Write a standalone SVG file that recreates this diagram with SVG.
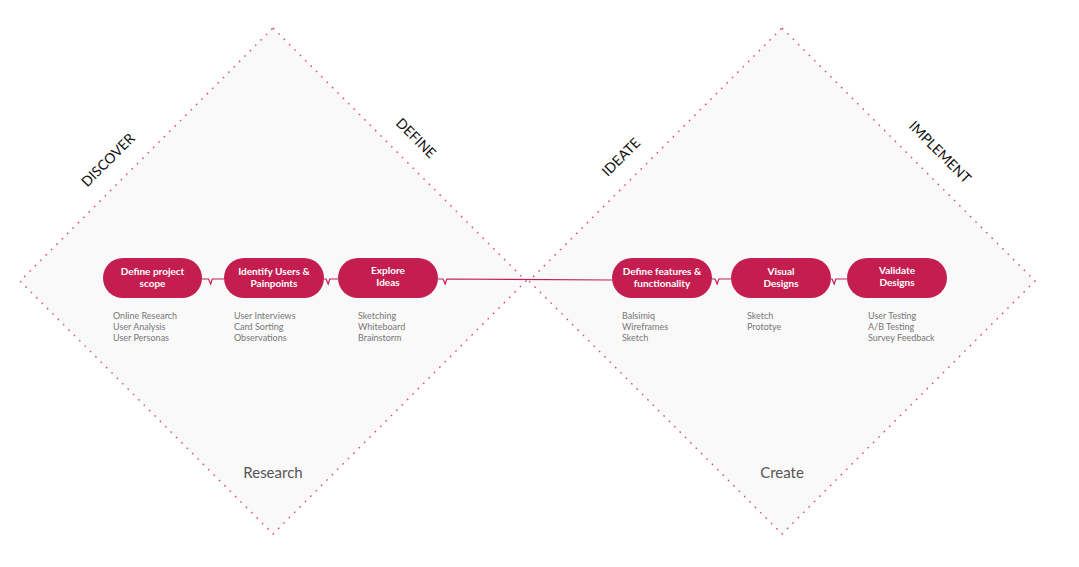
<svg xmlns="http://www.w3.org/2000/svg" width="1079" height="567" viewBox="0 0 1079 567">
<style>
.dia{fill:#f9f9f9;stroke:#e0457b;stroke-width:1.4;stroke-dasharray:1.6 6;}
.pill{fill:#c41e50;}
.pt{font-family:Lato,"Noto Sans",sans-serif;font-size:10px;font-weight:bold;fill:#ffffff;text-anchor:middle;}
.st{font-family:Lato,"Noto Sans",sans-serif;font-size:9px;fill:#777777;}
.phase{font-family:Lato,"Noto Sans",sans-serif;font-size:14px;fill:#111;text-anchor:middle;}
.big{font-family:Lato,"Noto Sans",sans-serif;font-size:15px;fill:#555;text-anchor:middle;}
.con{fill:none;stroke:#c41e50;stroke-width:1.2;}
</style>
<rect width="1079" height="567" fill="#ffffff"/>
<g id="diamond-research">
<polygon class="dia" points="273,28 526,281 273,534 20,281"/>
<text class="big" x="273" y="478">Research</text>
</g>
<g id="diamond-create">
<polygon class="dia" points="782,28 1035,281 782,534 529,281"/>
<text class="big" x="782" y="478">Create</text>
</g>
<g id="labels">
<text class="phase" transform="translate(108,160) rotate(-45)" y="5">DISCOVER</text>
<text class="phase" transform="translate(416,138) rotate(45)" y="5">DEFINE</text>
<text class="phase" transform="translate(621,157) rotate(-45)" y="5">IDEATE</text>
<text class="phase" transform="translate(940,152) rotate(45)" y="5">IMPLEMENT</text>
</g>
<g id="connectors">
<path class="con" d="M202,279 H208.5 L210.7,284 L212.3,279 H224"/>
<path class="con" d="M324,279 H326 L328.2,284 L329.8,279 H338"/>
<path class="con" d="M438,279 H443 L445.2,284 L446.8,279 L612,280"/>
<path class="con" d="M712,279 H715 L717.2,284 L718.8,279 H731"/>
<path class="con" d="M831,279 H832 L834.2,284 L835.8,279 H847"/>
</g>
<g id="node-scope">
<rect class="pill" x="103" y="258" width="99" height="40" rx="20"/>
<text class="pt" x="152.5" y="275">Define project</text>
<text class="pt" x="152.5" y="287">scope</text>
<text class="st" x="113" y="319">Online Research</text>
<text class="st" x="113" y="330">User Analysis</text>
<text class="st" x="113" y="341">User Personas</text>
</g>
<g id="node-users">
<rect class="pill" x="224" y="258" width="100" height="40" rx="20"/>
<text class="pt" x="274" y="275">Identify Users &amp;</text>
<text class="pt" x="274" y="287">Painpoints</text>
<text class="st" x="234" y="319">User Interviews</text>
<text class="st" x="234" y="330">Card Sorting</text>
<text class="st" x="234" y="341">Observations</text>
</g>
<g id="node-explore">
<rect class="pill" x="338" y="258" width="100" height="40" rx="20"/>
<text class="pt" x="388" y="274">Explore</text>
<text class="pt" x="388" y="286">Ideas</text>
<text class="st" x="358" y="319">Sketching</text>
<text class="st" x="358" y="330">Whiteboard</text>
<text class="st" x="358" y="341">Brainstorm</text>
</g>
<g id="node-features">
<rect class="pill" x="612" y="258" width="100" height="40" rx="20"/>
<text class="pt" x="662" y="275">Define features &amp;</text>
<text class="pt" x="662" y="287">functionality</text>
<text class="st" x="622" y="319">Balsimiq</text>
<text class="st" x="622" y="330">Wireframes</text>
<text class="st" x="622" y="341">Sketch</text>
</g>
<g id="node-visual">
<rect class="pill" x="731" y="258" width="100" height="40" rx="20"/>
<text class="pt" x="781" y="275">Visual</text>
<text class="pt" x="781" y="287">Designs</text>
<text class="st" x="747" y="319">Sketch</text>
<text class="st" x="747" y="330">Prototye</text>
</g>
<g id="node-validate">
<rect class="pill" x="847" y="258" width="100" height="40" rx="20"/>
<text class="pt" x="897" y="274">Validate</text>
<text class="pt" x="897" y="286">Designs</text>
<text class="st" x="868" y="319">User Testing</text>
<text class="st" x="868" y="330">A/B Testing</text>
<text class="st" x="868" y="341">Survey Feedback</text>
</g>
</svg>
